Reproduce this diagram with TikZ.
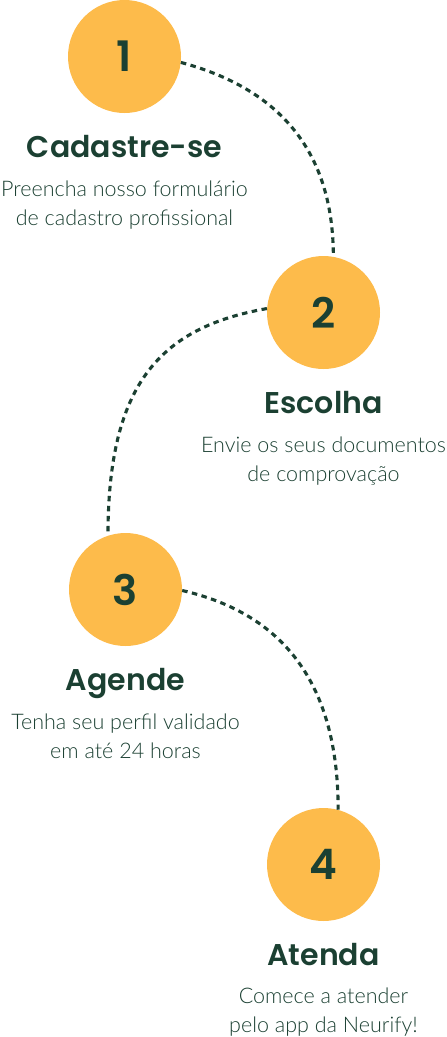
\documentclass[tikz,border=0pt]{standalone}
\usepackage{fontspec}
\newfontfamily\headfont{Poppins SemiBold}
\newfontfamily\bodyfont{Lato Light}
\usetikzlibrary{positioning}
\definecolor{stepfill}{HTML}{FDBB4B}
\definecolor{stepink}{HTML}{1B4032}
\tikzset{
  stepcircle/.style={
    circle, fill=stepfill, minimum size=113pt, inner sep=0pt,
    text=stepink, font=\headfont\fontsize{42}{42}\selectfont
  },
  steptitle/.style={
    text=stepink, inner sep=0pt,
    font=\headfont\fontsize{30}{32}\selectfont
  },
  stepdesc/.style={
    text=stepink, align=center, inner sep=0pt,
    font=\bodyfont\fontsize{21.5}{29}\selectfont
  },
  steplink/.style={draw=stepink, line width=3.1pt, dash pattern=on 5.5pt off 4.5pt}
}

\begin{document}
\begin{tikzpicture}[x=1pt, y=1pt]
    \useasboundingbox (0,0) rectangle (447,-1037);
    \node[stepcircle] (c1) at (124.5,-56.5) {1};
    \node[stepcircle] (c2) at (323.5,-312.5) {2};
    \node[stepcircle] (c3) at (125.5,-589.5) {3};
    \node[stepcircle] (c4) at (323.5,-864.5) {4};
    \node[steptitle, below=44pt of c1.south, anchor=base] (t1) {Cadastre-se};
    \node[steptitle, below=44pt of c2.south, anchor=base] (t2) {Escolha};
    \node[steptitle, below=44pt of c3.south, anchor=base] (t3) {Agende};
    \node[steptitle, below=44pt of c4.south, anchor=base] (t4) {Atenda};
    \node[stepdesc, below=68pt of t1.base, anchor=base] (d1) {Preencha nosso formulário\\de cadastro profissional};
    \node[stepdesc, below=68pt of t2.base, anchor=base] (d2) {Envie os seus documentos\\de comprovação};
    \node[stepdesc, below=68pt of t3.base, anchor=base] (d3) {Tenha seu perfil validado\\em até 24 horas};
    \node[stepdesc, below=67pt of t4.base, anchor=base] (d4) {Comece a atender\\pelo app da Neurify!};
    \draw[steplink] (c1.-6) to[out=-15, in=90, out distance=97pt, in distance=110pt] (c2.80);
    \draw[steplink] (c2.176) to[out=190, in=90, out distance=110pt, in distance=150pt] (c3.108);
    \draw[steplink] (c3.-1) to[out=-13, in=90, out distance=103pt, in distance=127pt] (c4.75);
  \end{tikzpicture}
\end{document}
